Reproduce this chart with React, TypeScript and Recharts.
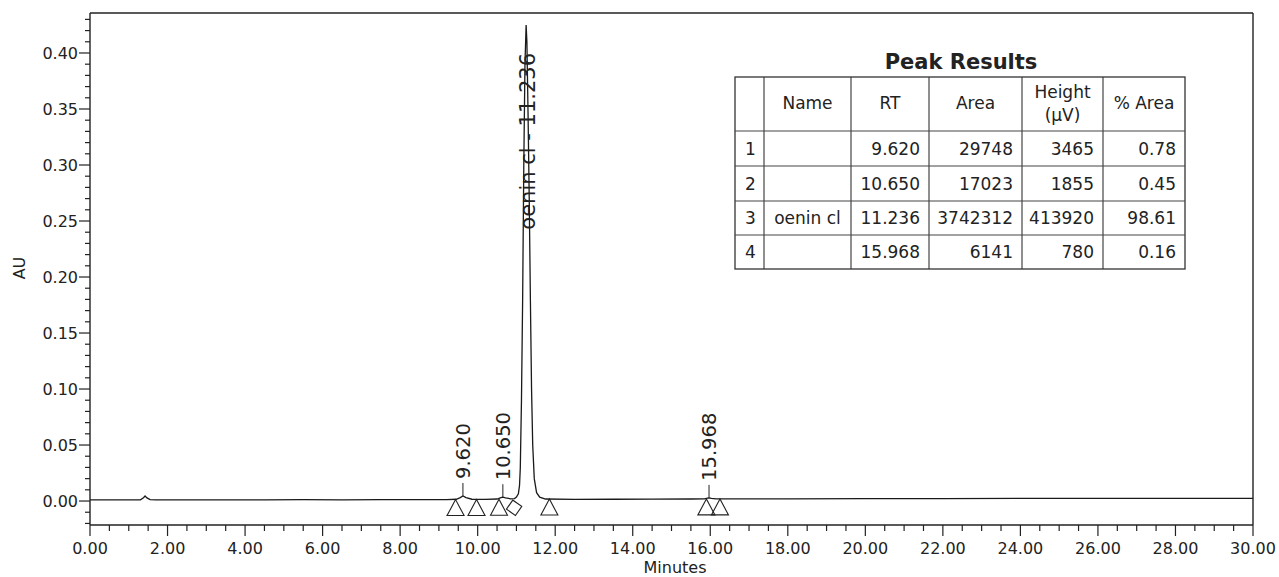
import React from 'react';
import {
  ComposedChart,
  Line,
  Scatter,
  XAxis,
  YAxis,
  ReferenceLine,
  Customized,
} from 'recharts';

// ---------- chromatogram trace (minutes, AU) ----------
const traceTimes = [
  0.0, 0.5, 1.0, 1.3, 1.38, 1.42, 1.47, 1.55, 1.7, 2.5, 3.5, 4.5, 5.5, 6.5, 7.5, 8.5,
  9.2, 9.45, 9.55, 9.62, 9.7, 9.85, 10.2, 10.5, 10.6, 10.65, 10.72, 10.85, 10.95,
  11.0, 11.05, 11.08, 11.1, 11.13, 11.16, 11.19, 11.22, 11.25, 11.27, 11.3, 11.33,
  11.36, 11.39, 11.42, 11.46, 11.52, 11.6, 11.75, 12.5, 13.5, 14.5, 15.5, 15.85,
  15.93, 15.97, 16.03, 16.15, 17.0, 18.0, 20.0, 22.0, 24.0, 26.0, 28.0, 30.0,
];
const traceAU = [
  0.001, 0.001, 0.0011, 0.0011, 0.003, 0.0045, 0.0028, 0.0013, 0.001, 0.0011, 0.001,
  0.0011, 0.0012, 0.0011, 0.0012, 0.0012, 0.0013, 0.0016, 0.003, 0.0045, 0.003, 0.0016,
  0.0014, 0.0018, 0.003, 0.0034, 0.0028, 0.002, 0.0022, 0.0035, 0.0065, 0.014, 0.03,
  0.09, 0.18, 0.3, 0.39, 0.425, 0.41, 0.345, 0.27, 0.18, 0.1, 0.05, 0.02, 0.0075, 0.0035,
  0.0018, 0.0015, 0.0016, 0.0017, 0.0018, 0.0019, 0.0025, 0.0028, 0.0024, 0.0019,
  0.0019, 0.002, 0.0021, 0.0022, 0.0023, 0.0023, 0.0024, 0.0024,
];

// ---------- peak table ----------
const peakIndex = ['1', '2', '3', '4'];
const peakNames = ['', '', 'oenin cl', ''];
const peakRT = ['9.620', '10.650', '11.236', '15.968'];
const peakArea = ['29748', '17023', '3742312', '6141'];
const peakHeight = ['3465', '1855', '413920', '780'];
const peakPctArea = ['0.78', '0.45', '98.61', '0.16'];
const peakApexAU = [0.0045, 0.0034, 0.425, 0.0028];
const mainPeak = [false, false, true, false];

// ---------- integration markers ----------
const triangleTimes = [9.43, 9.97, 10.55, 11.85, 15.9, 16.25];
const triangleAU = [0.0013, 0.0014, 0.0016, 0.0018, 0.0019, 0.0019];
const diamondTimes = [10.94];
const diamondAU = [0.002];

// ---------- axes ----------
const xMajorTicks = [0, 2, 4, 6, 8, 10, 12, 14, 16, 18, 20, 22, 24, 26, 28, 30];
const yDomain = [-0.0214, 0.4357];
const xDomain = [0, 30];

const xTicks: number[] = [];
xMajorTicks.forEach((v, i) => {
  xTicks.push(v);
  if (i < xMajorTicks.length - 1) {
    xTicks.push(v + 0.5, v + 1, v + 1.5);
  }
});
const yTicks: number[] = [];
for (let k = -2; k <= 43; k++) yTicks.push(k / 100);

const traceData = traceTimes.map((t, i) => ({ t, v: traceAU[i] }));
const labelData = peakRT.map((rt, i) => ({
  t: parseFloat(rt),
  v: peakApexAU[i],
  rt,
  name: peakNames[i],
  main: mainPeak[i],
}));
const triangleData = triangleTimes.map((t, i) => ({ t, v: triangleAU[i] }));
const diamondData = diamondTimes.map((t, i) => ({ t, v: diamondAU[i] }));

const FONT = '"DejaVu Sans", Verdana, sans-serif';
const INK = '#222';

const XTick = (props: any) => {
  const { x, y, payload } = props;
  const v = payload.value;
  const major = Math.abs(v / 2 - Math.round(v / 2)) < 1e-6;
  return (
    <g>
      <line x1={x} x2={x} y1={y} y2={y + (major ? 11 : 6)} stroke={INK} strokeWidth={1.2} />
      {major && (
        <text x={x} y={y + 29} textAnchor="middle" fontSize={16} fontFamily={FONT} fill={INK}>
          {v.toFixed(2)}
        </text>
      )}
    </g>
  );
};

const YTick = (props: any) => {
  const { x, y, payload } = props;
  const v = payload.value;
  const major = Math.round(v * 100) % 5 === 0;
  return (
    <g>
      <line x1={x} x2={x - (major ? 11 : 5)} y1={y} y2={y} stroke={INK} strokeWidth={1.2} />
      {major && (
        <text x={x - 12} y={y + 6} textAnchor="end" fontSize={16} fontFamily={FONT} fill={INK}>
          {v.toFixed(2)}
        </text>
      )}
    </g>
  );
};

const LabelShape = (props: any) => {
  const { cx, cy, payload } = props;
  if (payload.main) {
    return (
      <text
        transform={`translate(${cx + 2},${cy + 28}) rotate(-90)`}
        textAnchor="end"
        dy="0.35em"
        fontSize={21}
        fontFamily={FONT}
        fill={INK}
      >
        {`${payload.name} - ${payload.rt}`}
      </text>
    );
  }
  return (
    <g>
      <line x1={cx} x2={cx} y1={cy} y2={cy - 13} stroke={INK} strokeWidth={1} />
      <text
        transform={`translate(${cx},${cy - 17}) rotate(-90)`}
        textAnchor="start"
        dy="0.35em"
        fontSize={19.5}
        fontFamily={FONT}
        fill={INK}
      >
        {payload.rt}
      </text>
    </g>
  );
};

const TriangleShape = (props: any) => {
  const { cx, cy } = props;
  return (
    <polygon
      points={`${cx},${cy} ${cx - 8.5},${cy + 16} ${cx + 8.5},${cy + 16}`}
      fill="none"
      stroke={INK}
      strokeWidth={1.1}
    />
  );
};

const DiamondShape = (props: any) => {
  const { cx, cy } = props;
  return (
    <rect
      x={-5.5}
      y={-5.5}
      width={11}
      height={11}
      transform={`translate(${cx},${cy + 9}) rotate(35)`}
      fill="none"
      stroke={INK}
      strokeWidth={1.1}
    />
  );
};

// table layout
const colX = [735, 764, 851, 929, 1022, 1103, 1185];
const rowY = [77, 131, 166, 201, 235, 269];

const TableLayer = () => {
  const headers = ['Name', 'RT', 'Area', '', '% Area'];
  const cell = { fontSize: 17, fontFamily: FONT, fill: INK } as any;
  const rows = peakIndex.map((idx, i) => [idx, peakNames[i], peakRT[i], peakArea[i], peakHeight[i], peakPctArea[i]]);
  return (
    <g>
      <text x={961} y={69} textAnchor="middle" fontSize={21} fontWeight="bold" fontFamily={FONT} fill={INK}>
        Peak Results
      </text>
      <rect x={colX[0]} y={rowY[0]} width={colX[6] - colX[0]} height={rowY[5] - rowY[0]} fill="none" stroke="#333" strokeWidth={1.3} />
      {colX.slice(1, 6).map((x, i) => (
        <line key={'c' + i} x1={x} x2={x} y1={rowY[0]} y2={rowY[5]} stroke="#333" strokeWidth={1.1} />
      ))}
      {rowY.slice(1, 5).map((y, i) => (
        <line key={'r' + i} x1={colX[0]} x2={colX[6]} y1={y} y2={y} stroke="#444" strokeWidth={1.1} />
      ))}
      {headers.map((h, i) =>
        h ? (
          <text key={'h' + i} x={(colX[i + 1] + colX[i + 2]) / 2} y={109} textAnchor="middle" {...cell}>
            {h}
          </text>
        ) : null,
      )}
      <text x={(colX[4] + colX[5]) / 2} y={98} textAnchor="middle" {...cell}>
        Height
      </text>
      <text x={(colX[4] + colX[5]) / 2} y={121} textAnchor="middle" {...cell}>
        (µV)
      </text>
      {rows.map((r, i) => {
        const y = (rowY[i + 1] + rowY[i + 2]) / 2 + 6;
        return (
          <g key={'row' + i}>
            <text x={745} y={y} {...cell}>{r[0]}</text>
            <text x={(colX[1] + colX[2]) / 2} y={y} textAnchor="middle" {...cell}>{r[1]}</text>
            <text x={colX[3] - 9} y={y} textAnchor="end" {...cell}>{r[2]}</text>
            <text x={colX[4] - 9} y={y} textAnchor="end" {...cell}>{r[3]}</text>
            <text x={colX[5] - 9} y={y} textAnchor="end" {...cell}>{r[4]}</text>
            <text x={colX[6] - 9} y={y} textAnchor="end" {...cell}>{r[5]}</text>
          </g>
        );
      })}
      <text
        transform="translate(25,268) rotate(-90)"
        textAnchor="middle"
        fontSize={16}
        fontFamily={FONT}
        fill={INK}
      >
        AU
      </text>
      <text x={675} y={573} textAnchor="middle" fontSize={16} fontFamily={FONT} fill={INK}>
        Minutes
      </text>
    </g>
  );
};

export default function App() {
  return (
    <div style={{ position: 'absolute', left: 0, top: 0, width: 1279, height: 577, background: '#fff' }}>
      <ComposedChart
        width={1279}
        height={577}
        data={traceData}
        margin={{ top: 13, right: 26, bottom: 0, left: 0 }}
      >
        <XAxis
          dataKey="t"
          type="number"
          domain={xDomain}
          ticks={xTicks}
          interval={0}
          tick={<XTick />}
          tickLine={false}
          tickSize={0}
          tickMargin={0}
          axisLine={{ stroke: INK, strokeWidth: 1.4 }}
          height={52}
          allowDataOverflow
        />
        <YAxis
          dataKey="v"
          type="number"
          domain={yDomain}
          ticks={yTicks}
          interval={0}
          tick={<YTick />}
          tickLine={false}
          tickSize={0}
          tickMargin={0}
          axisLine={{ stroke: INK, strokeWidth: 1.4 }}
          width={90}
          allowDataOverflow
        />
        <ReferenceLine y={yDomain[1]} stroke={INK} strokeWidth={1.4} />
        <ReferenceLine x={xDomain[1]} stroke={INK} strokeWidth={1.4} />
        <Line
          dataKey="v"
          type="linear"
          stroke="#1a1a1a"
          strokeWidth={1.3}
          dot={false}
          isAnimationActive={false}
        />
        <Scatter data={labelData} dataKey="v" shape={<LabelShape />} isAnimationActive={false} />
        <Scatter data={triangleData} dataKey="v" shape={<TriangleShape />} isAnimationActive={false} />
        <Scatter data={diamondData} dataKey="v" shape={<DiamondShape />} isAnimationActive={false} />
        <Customized component={TableLayer} />
      </ComposedChart>
    </div>
  );
}
